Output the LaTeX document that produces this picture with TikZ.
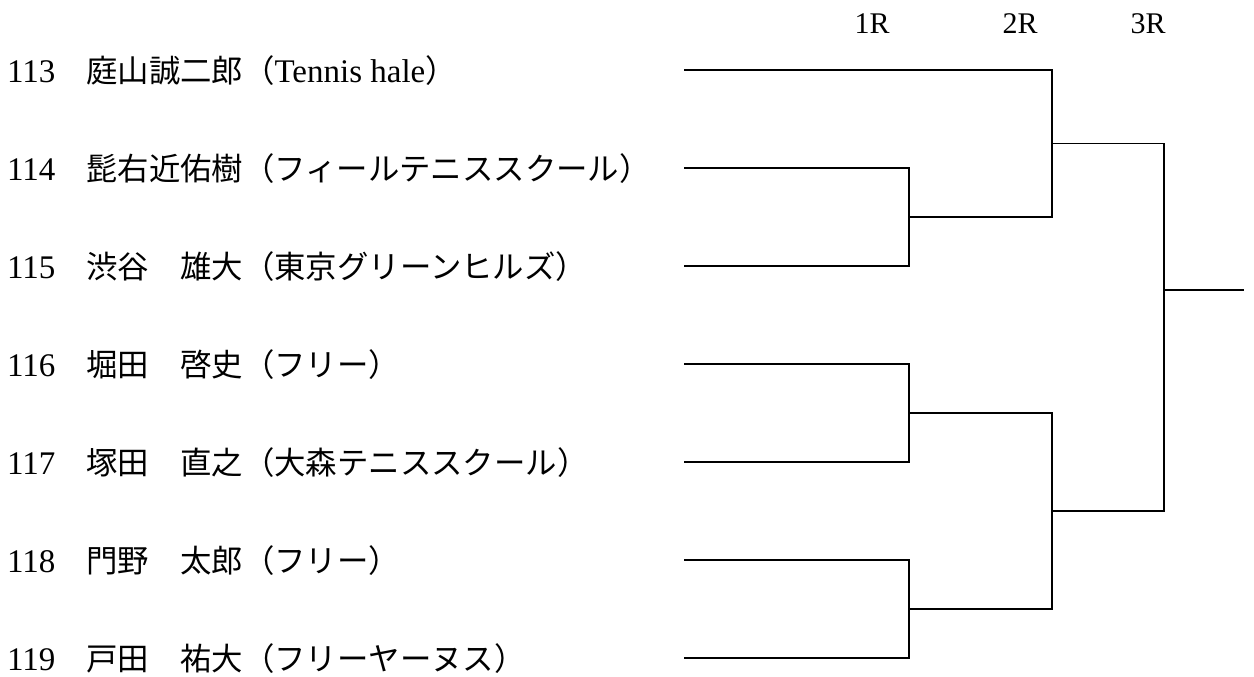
\documentclass[tikz,border=0pt]{standalone}
\usepackage{fontspec}
\setmainfont{Liberation Serif}
\newfontfamily\jp{Noto Sans CJK JP}
\begin{document}
\begin{tikzpicture}[x=1pt,y=-1pt,
  num/.style={anchor=base west, inner sep=0pt, font=\fontsize{33}{38}\selectfont},
  pname/.style={anchor=base west, inner sep=0pt, font=\jp\fontsize{31.4}{36}\selectfont},
  roundlbl/.style={anchor=center, inner sep=0pt, font=\fontsize{30}{34}\selectfont},
  bracket/.style={draw=black, line width=1.7pt}]
\useasboundingbox (0,0) rectangle (1254,677);

% round labels
\node[roundlbl] (r1) at (872,24) {1R};
\node[roundlbl] (r2) at (1020,24) {2R};
\node[roundlbl] (r3) at (1148,24) {3R};

% player numbers
\node[num] (n113) at (7,82) {113};
\node[num] (n114) at (7,180) {114};
\node[num] (n115) at (7,278) {115};
\node[num] (n116) at (7,376) {116};
\node[num] (n117) at (7,474) {117};
\node[num] (n118) at (7,572) {118};
\node[num] (n119) at (7,670) {119};

% player names
\node[pname] (t113) at (86,82) {庭山誠二郎（{\rmfamily\fontsize{33}{38}\selectfont Tennis hale}）};
\node[pname] (t114) at (86,180) {髭右近佑樹（フィールテニススクール）};
\node[pname] (t115) at (86,278) {渋谷　雄大（東京グリーンヒルズ）};
\node[pname] (t116) at (86,376) {堀田　啓史（フリー）};
\node[pname] (t117) at (86,474) {塚田　直之（大森テニススクール）};
\node[pname] (t118) at (86,572) {門野　太郎（フリー）};
\node[pname] (t119) at (86,670) {戸田　祐大（フリーヤーヌス）};

% line starts
\coordinate (s113) at (684,70);
\coordinate (s114) at (684,168);
\coordinate (s115) at (684,266);
\coordinate (s116) at (684,364);
\coordinate (s117) at (684,462);
\coordinate (s118) at (684,560);
\coordinate (s119) at (684,658);
% match points
\coordinate (a1) at (909,217);
\coordinate (a2) at (909,413);
\coordinate (a3) at (909,609);
\coordinate (b1) at (1052,143.5);
\coordinate (b2) at (1052,511);
\coordinate (c1) at (1164,290);
\coordinate (w) at (1244,290);

% 1R
\draw[bracket] (s114) -| (a1) |- (s115);
\draw[bracket] (s116) -| (a2) |- (s117);
\draw[bracket] (s118) -| (a3) |- (s119);
% 2R
\draw[bracket] (a1) -| (b1) |- (s113);
\draw[bracket] (a2) -| (b2) |- (a3);
% 3R
\draw[bracket] (b1) -| (c1) |- (b2);
\draw[bracket] (c1) -- (w);
\end{tikzpicture}
\end{document}
